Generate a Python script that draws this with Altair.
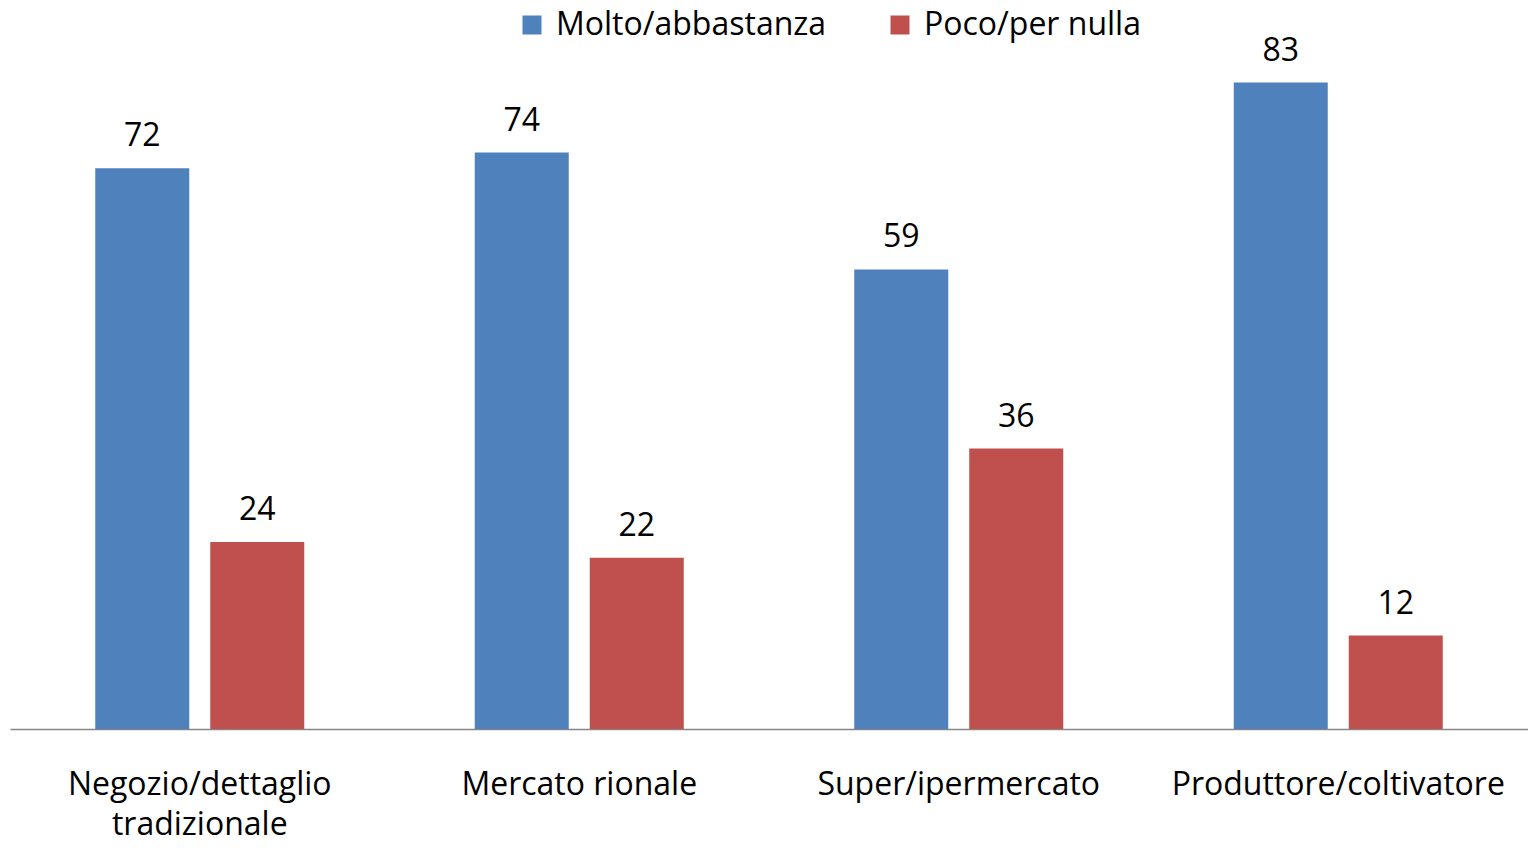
import altair as alt
import pandas as pd

categories = ["Negozio/dettaglio tradizionale", "Mercato rionale", "Super/ipermercato", "Produttore/coltivatore"]
series = ["Molto/abbastanza", "Poco/per nulla"]
molto = [72, 74, 59, 83]
poco = [24, 22, 36, 12]
colors = ["#4F81BD", "#C0504D"]

rows = []
for c, a, b in zip(categories, molto, poco):
    rows.append({"cat": c, "serie": series[0], "val": a})
    rows.append({"cat": c, "serie": series[1], "val": b})
df = pd.DataFrame(rows)

FONT = "Open Sans"
FS = 32

x = alt.X(
    "cat:N", sort=categories,
    scale=alt.Scale(paddingInner=0, paddingOuter=0),
    axis=alt.Axis(
        title=None, labelAngle=0, ticks=False, domainColor="#868686", domainWidth=1.5,
        labelFontSize=FS, labelFont=FONT, labelColor="#000000", labelPadding=40,
        labelLineHeight=40, labelLimit=500, labelOverlap=False,
        labelExpr="datum.value == 'Negozio/dettaglio tradizionale' ? ['Negozio/dettaglio', 'tradizionale'] : datum.value",
    ),
)
xo = alt.XOffset("serie:N", sort=series, scale=alt.Scale(paddingInner=0.1826, paddingOuter=0.7413))
y = alt.Y("val:Q", scale=alt.Scale(domain=[0, 90]), axis=None)
color = alt.Color(
    "serie:N", sort=series,
    scale=alt.Scale(domain=series, range=colors),
    legend=alt.Legend(
        orient="none", legendX=506, legendY=-19, direction="horizontal", title=None,
        symbolType="square", symbolSize=361, symbolStrokeWidth=0,
        labelFontSize=FS, labelFont=FONT, labelColor="#000000", labelOffset=8,
        labelLimit=500, columnPadding=57, padding=0,
    ),
)

bars = alt.Chart(df).mark_bar().encode(x=x, xOffset=xo, y=y, color=color)
labels = alt.Chart(df).mark_text(
    dy=-22, baseline="alphabetic", fontSize=FS, font=FONT, color="#000000"
).encode(x=x, xOffset=xo, y=y, text="val:Q")

chart = (bars + labels).properties(
    width=1518, height=701,
    padding={"left": 2, "top": 20, "right": 0, "bottom": 107},
    autosize=alt.AutoSizeParams(type="none"),
).configure_view(stroke=None)

chart.save("out.html", embed_options={"renderer": "svg", "actions": False})
